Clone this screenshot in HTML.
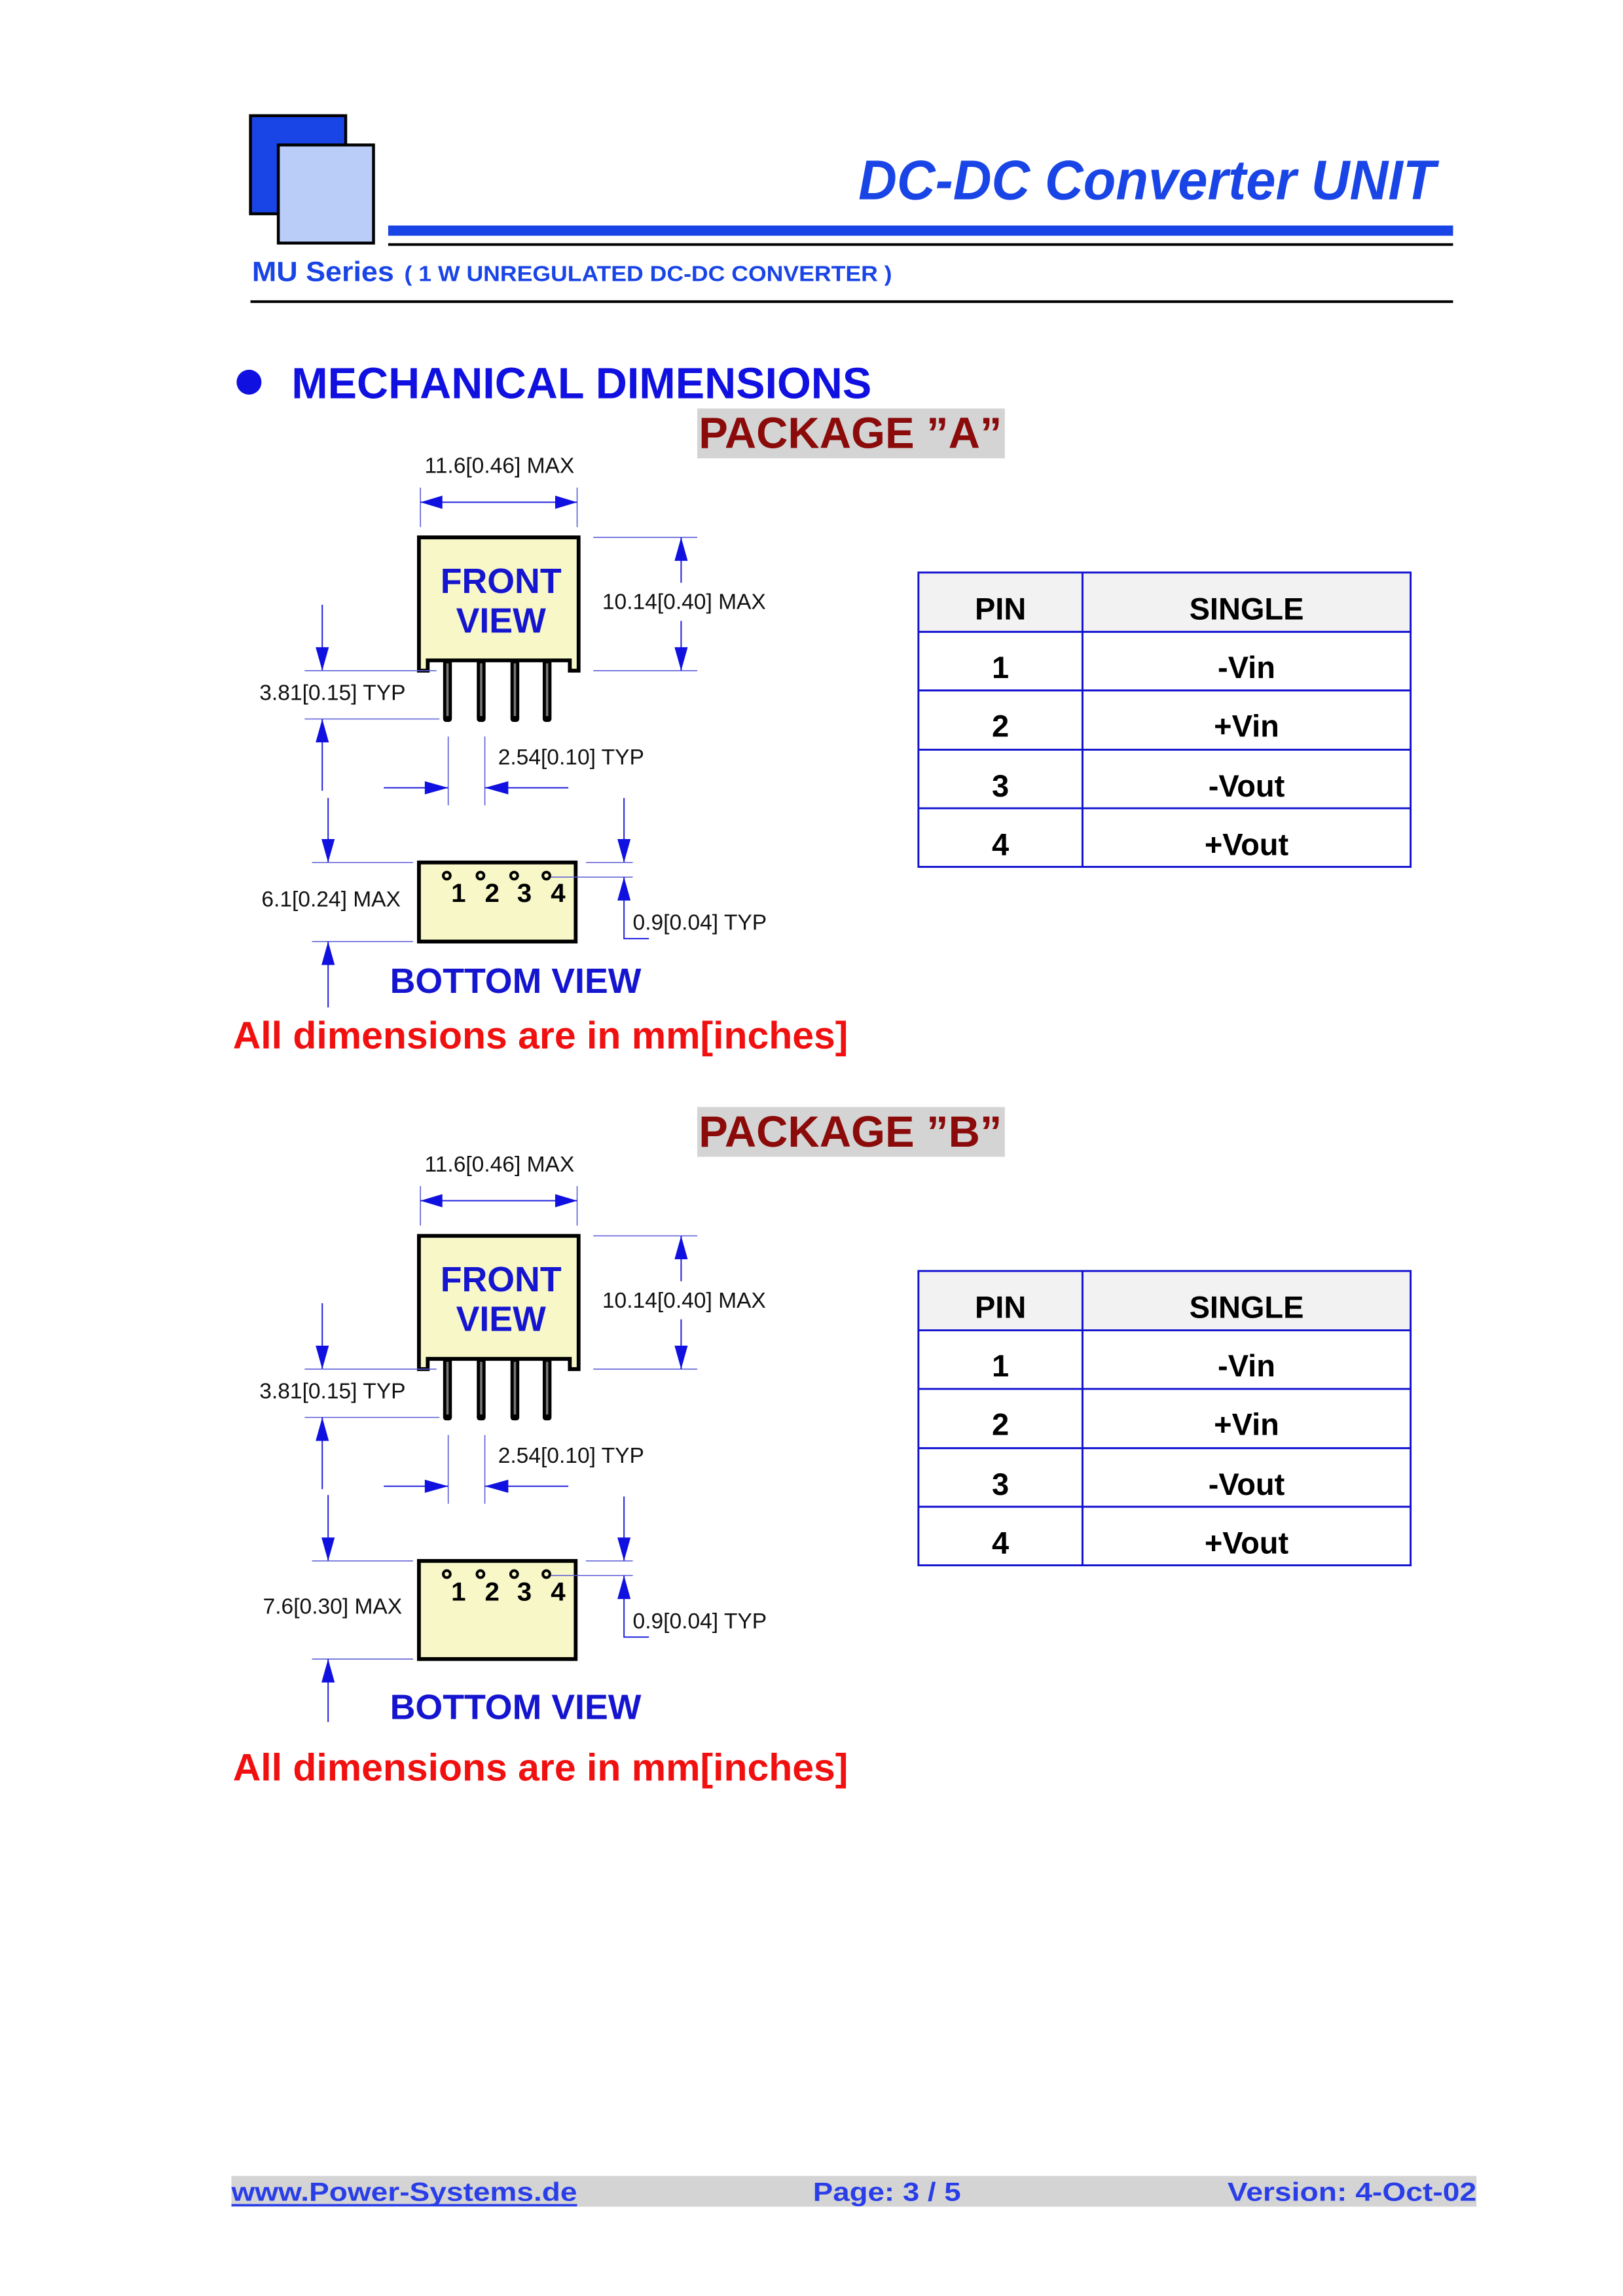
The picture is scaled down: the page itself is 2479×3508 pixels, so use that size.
<!DOCTYPE html>
<html><head><meta charset="utf-8">
<style>
html,body{margin:0;padding:0;background:#fff;}
svg{display:block;}
text{font-family:"Liberation Sans",Arial,sans-serif;}
.d{font-size:15px;fill:#111;}
.ext{stroke:#5a5ad8;stroke-width:0.7;fill:none;}
.dim{stroke:#2222dd;stroke-width:0.9;fill:none;}
.ar{fill:#1010e0;}
.box{fill:#f7f7c8;stroke:#000;stroke-width:2.6;}
.tb{fill:none;stroke:#1010d0;stroke-width:1.3;}
.tt{font-size:21px;font-weight:bold;fill:#000;text-anchor:middle;}
</style></head>
<body>
<svg width="2479" height="3508" viewBox="0 0 1108 1568" preserveAspectRatio="none" xmlns="http://www.w3.org/2000/svg">
<rect width="1108" height="1568" fill="#fff"/>
<!-- header -->
<rect x="171" y="79" width="65" height="67" fill="#1a45e6" stroke="#000" stroke-width="2"/>
<rect x="190" y="99" width="65" height="67" fill="#b9cdf8" stroke="#000" stroke-width="2"/>
<text x="980" y="136" text-anchor="end" font-size="38" font-weight="bold" font-style="italic" fill="#1a45e6" textLength="394" lengthAdjust="spacingAndGlyphs">DC-DC Converter UNIT</text>
<rect x="265" y="154" width="727" height="7" fill="#1a45e6"/>
<line x1="265" y1="167" x2="992" y2="167" stroke="#000" stroke-width="1.8"/>
<text x="172" y="192" font-size="19" font-weight="bold" fill="#1a45e6" textLength="97" lengthAdjust="spacingAndGlyphs">MU Series</text>
<text x="276" y="192" font-size="15" font-weight="bold" fill="#1a45e6" textLength="333" lengthAdjust="spacingAndGlyphs">( 1 W UNREGULATED DC-DC CONVERTER )</text>
<line x1="171" y1="206" x2="992" y2="206" stroke="#000" stroke-width="1.8"/>
<circle cx="170" cy="261" r="8.5" fill="#1010e0"/>
<text x="199" y="272" font-size="30" font-weight="bold" fill="#1010e0" textLength="396" lengthAdjust="spacingAndGlyphs">MECHANICAL DIMENSIONS</text>

<rect x="476" y="279" width="210" height="34" fill="#d4d4d4"/>
<text x="477" y="306" font-size="30" font-weight="bold" fill="#8b0a0a" textLength="207" lengthAdjust="spacingAndGlyphs">PACKAGE ”A”</text>
<rect x="476" y="756" width="210" height="34" fill="#d4d4d4"/>
<text x="477" y="783" font-size="30" font-weight="bold" fill="#8b0a0a" textLength="207" lengthAdjust="spacingAndGlyphs">PACKAGE ”B”</text>

<defs>
<g id="front">
  <text x="341" y="323" class="d" text-anchor="middle">11.6[0.46] MAX</text>
  <line x1="287" y1="333" x2="287" y2="360" class="ext"/>
  <line x1="394" y1="333" x2="394" y2="360" class="ext"/>
  <line x1="287" y1="343" x2="394" y2="343" class="dim"/>
  <polygon class="ar" points="287,343 302,338.5 302,347.5"/>
  <polygon class="ar" points="394,343 379,338.5 379,347.5"/>
  <rect x="302.5" y="448" width="6" height="45" rx="2" fill="#000"/>
  <rect x="325.5" y="448" width="6" height="45" rx="2" fill="#000"/>
  <rect x="348.5" y="448" width="6" height="45" rx="2" fill="#000"/>
  <rect x="370.5" y="448" width="6" height="45" rx="2" fill="#000"/>
  <rect x="304.7" y="453" width="1.6" height="36" fill="#777"/>
  <rect x="327.7" y="453" width="1.6" height="36" fill="#777"/>
  <rect x="350.7" y="453" width="1.6" height="36" fill="#777"/>
  <rect x="372.7" y="453" width="1.6" height="36" fill="#777"/>
  <path class="box" d="M286,367 H395 V458 H389 V451 H292 V458 H286 Z"/>
  <text x="342" y="405" font-size="24" font-weight="bold" fill="#1515d0" text-anchor="middle">FRONT</text>
  <text x="342" y="432" font-size="24" font-weight="bold" fill="#1515d0" text-anchor="middle">VIEW</text>
  <line x1="405" y1="367" x2="476" y2="367" class="ext"/>
  <line x1="405" y1="458" x2="476" y2="458" class="ext"/>
  <line x1="465" y1="367" x2="465" y2="398" class="dim"/>
  <line x1="465" y1="424" x2="465" y2="458" class="dim"/>
  <polygon class="ar" points="465,367 460.5,383 469.5,383"/>
  <polygon class="ar" points="465,458 460.5,442 469.5,442"/>
  <text x="467" y="416" class="d" text-anchor="middle">10.14[0.40] MAX</text>
  <line x1="220" y1="413" x2="220" y2="458" class="dim"/>
  <polygon class="ar" points="220,458 215.5,442 224.5,442"/>
  <line x1="208" y1="458" x2="298" y2="458" class="ext"/>
  <line x1="208" y1="491" x2="300" y2="491" class="ext"/>
  <line x1="220" y1="491" x2="220" y2="540" class="dim"/>
  <polygon class="ar" points="220,491 215.5,507 224.5,507"/>
  <text x="227" y="478" class="d" text-anchor="middle">3.81[0.15] TYP</text>
  <line x1="306" y1="503" x2="306" y2="550" class="ext"/>
  <line x1="331" y1="503" x2="331" y2="550" class="ext"/>
  <line x1="262" y1="538" x2="306" y2="538" class="dim"/>
  <line x1="331" y1="538" x2="388" y2="538" class="dim"/>
  <polygon class="ar" points="306,538 290,533.5 290,542.5"/>
  <polygon class="ar" points="331,538 347,533.5 347,542.5"/>
  <text x="340" y="522" class="d">2.54[0.10] TYP</text>
</g>
</defs>

<use href="#front"/>
<use href="#front" transform="translate(0,477)"/>

<!-- bottom view A -->
<rect x="286" y="589" width="107" height="54" class="box"/>
<g fill="none" stroke="#000" stroke-width="1.8">
<circle cx="305" cy="598" r="2.4"/><circle cx="328" cy="598" r="2.4"/><circle cx="351" cy="598" r="2.4"/><circle cx="373" cy="598" r="2.4"/>
</g>
<g font-size="18" font-weight="bold" fill="#000" text-anchor="middle">
<text x="313" y="616">1</text><text x="336" y="616">2</text><text x="358" y="616">3</text><text x="381" y="616">4</text>
</g>
<line x1="224" y1="545" x2="224" y2="589" class="dim"/>
<polygon class="ar" points="224,589 219.5,573 228.5,573"/>
<line x1="213" y1="589" x2="282" y2="589" class="ext"/>
<line x1="213" y1="643" x2="282" y2="643" class="ext"/>
<line x1="224" y1="643" x2="224" y2="688" class="dim"/>
<polygon class="ar" points="224,643 219.5,659 228.5,659"/>
<text x="226" y="619" class="d" text-anchor="middle">6.1[0.24] MAX</text>
<line x1="426" y1="545" x2="426" y2="589" class="dim"/>
<polygon class="ar" points="426,589 421.5,573 430.5,573"/>
<line x1="400" y1="589" x2="432" y2="589" class="ext"/>
<line x1="376" y1="599" x2="432" y2="599" class="ext"/>
<polyline points="426,599 426,641 443,641" class="dim"/>
<polygon class="ar" points="426,599 421.5,615 430.5,615"/>
<text x="432" y="635" class="d">0.9[0.04] TYP</text>
<text x="352" y="678" font-size="24" font-weight="bold" fill="#1515d0" text-anchor="middle">BOTTOM VIEW</text>
<text x="159" y="716" font-size="26" font-weight="bold" fill="#f01010" textLength="420" lengthAdjust="spacingAndGlyphs">All dimensions are in mm[inches]</text>

<!-- bottom view B -->
<rect x="286" y="1066" width="107" height="67" class="box"/>
<g fill="none" stroke="#000" stroke-width="1.8">
<circle cx="305" cy="1075" r="2.4"/><circle cx="328" cy="1075" r="2.4"/><circle cx="351" cy="1075" r="2.4"/><circle cx="373" cy="1075" r="2.4"/>
</g>
<g font-size="18" font-weight="bold" fill="#000" text-anchor="middle">
<text x="313" y="1093">1</text><text x="336" y="1093">2</text><text x="358" y="1093">3</text><text x="381" y="1093">4</text>
</g>
<line x1="224" y1="1021" x2="224" y2="1066" class="dim"/>
<polygon class="ar" points="224,1066 219.5,1050 228.5,1050"/>
<line x1="213" y1="1066" x2="282" y2="1066" class="ext"/>
<line x1="213" y1="1133" x2="282" y2="1133" class="ext"/>
<line x1="224" y1="1133" x2="224" y2="1176" class="dim"/>
<polygon class="ar" points="224,1133 219.5,1149 228.5,1149"/>
<text x="227" y="1102" class="d" text-anchor="middle">7.6[0.30] MAX</text>
<line x1="426" y1="1022" x2="426" y2="1066" class="dim"/>
<polygon class="ar" points="426,1066 421.5,1050 430.5,1050"/>
<line x1="400" y1="1066" x2="432" y2="1066" class="ext"/>
<line x1="376" y1="1076" x2="432" y2="1076" class="ext"/>
<polyline points="426,1076 426,1118 443,1118" class="dim"/>
<polygon class="ar" points="426,1076 421.5,1092 430.5,1092"/>
<text x="432" y="1112" class="d">0.9[0.04] TYP</text>
<text x="352" y="1174" font-size="24" font-weight="bold" fill="#1515d0" text-anchor="middle">BOTTOM VIEW</text>
<text x="159" y="1216" font-size="26" font-weight="bold" fill="#f01010" textLength="420" lengthAdjust="spacingAndGlyphs">All dimensions are in mm[inches]</text>

<defs>
<g id="tbl">
  <rect x="627" y="391" width="336" height="40.5" fill="#f2f2f2"/>
  <rect x="627" y="391" width="336" height="201" class="tb"/>
  <line x1="739" y1="391" x2="739" y2="592" class="tb"/>
  <line x1="627" y1="431.5" x2="963" y2="431.5" class="tb"/>
  <line x1="627" y1="471.5" x2="963" y2="471.5" class="tb"/>
  <line x1="627" y1="512" x2="963" y2="512" class="tb"/>
  <line x1="627" y1="552" x2="963" y2="552" class="tb"/>
  <text x="683" y="423" class="tt">PIN</text><text x="851" y="423" class="tt">SINGLE</text>
  <text x="683" y="463" class="tt">1</text><text x="851" y="463" class="tt">-Vin</text>
  <text x="683" y="503" class="tt">2</text><text x="851" y="503" class="tt">+Vin</text>
  <text x="683" y="544" class="tt">3</text><text x="851" y="544" class="tt">-Vout</text>
  <text x="683" y="584" class="tt">4</text><text x="851" y="584" class="tt">+Vout</text>
</g>
</defs>
<use href="#tbl"/>
<use href="#tbl" transform="translate(0,477)"/>

<!-- footer -->
<rect x="158" y="1486" width="850" height="21" fill="#d4d4d4"/>
<text x="158" y="1503" font-size="18" font-weight="bold" fill="#2a3ee8" textLength="236" lengthAdjust="spacingAndGlyphs">www.Power-Systems.de</text>
<line x1="158" y1="1506" x2="394" y2="1506" stroke="#2a3ee8" stroke-width="1.6"/>
<text x="555" y="1503" font-size="18" font-weight="bold" fill="#2a3ee8" textLength="101" lengthAdjust="spacingAndGlyphs">Page: 3 / 5</text>
<text x="838" y="1503" font-size="18" font-weight="bold" fill="#2a3ee8" textLength="170" lengthAdjust="spacingAndGlyphs">Version: 4-Oct-02</text>
</svg>
</body></html>
